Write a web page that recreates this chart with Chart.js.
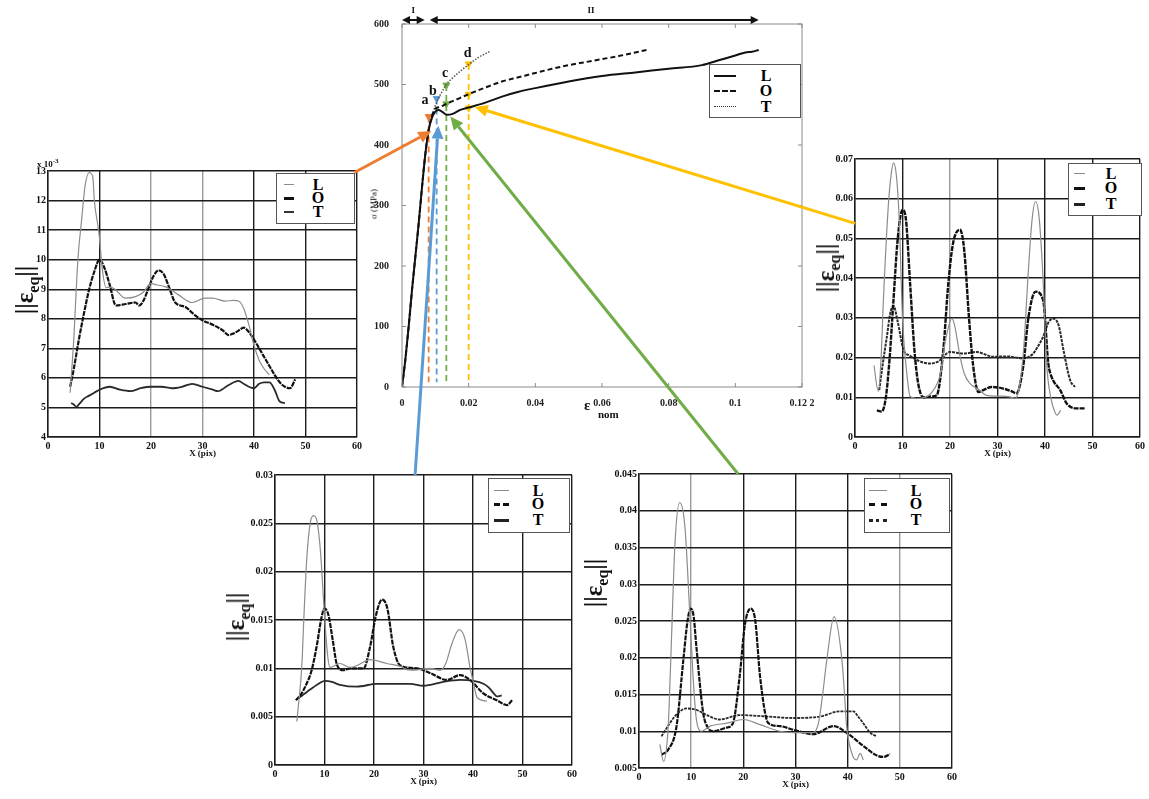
<!DOCTYPE html>
<html>
<head>
<meta charset="utf-8">
<script src="https://cdn.jsdelivr.net/npm/chart.js@4.4.0/dist/chart.umd.min.js"></script>
<style>
body{margin:0;background:#fff;overflow:hidden}
#stage{position:relative;width:1149px;height:799px;font-family:"Liberation Serif","Times New Roman",serif}
#stage canvas{position:absolute}
.lbl{position:absolute;font-weight:bold;color:#111;white-space:nowrap;z-index:6;line-height:1}
.ylab{font-size:25px;transform:translate(-50%,-50%) rotate(-90deg)}
.ylab sub{font-size:16px}
.leg{position:absolute;border:1px solid #555;background:#fff;z-index:4}
.leg span{position:absolute}
.leg b{position:absolute;font-size:16px;line-height:16px;transform:translate(-50%,-50%)}
</style>
</head>
<body>
<div id="stage">
  <div class="lbl ylab" style="left:27px;top:290px">||ε<sub>eq</sub>||</div>
  <div class="lbl ylab" style="left:828px;top:268px">||ε<sub>eq</sub>||</div>
  <div class="lbl ylab" style="left:238px;top:617px">||ε<sub>eq</sub>||</div>
  <div class="lbl ylab" style="left:596px;top:583px">||ε<sub>eq</sub>||</div>
  <div class="lbl" style="left:37px;top:158px;font-size:9px">x 10<sup style="font-size:7px">-3</sup></div>
  <div class="lbl" style="left:374px;top:204px;font-size:9px;font-weight:normal;transform:translate(-50%,-50%) rotate(-90deg)">σ (MPa)</div>
  <div class="lbl" style="left:584px;top:398px;font-size:15px">ε</div>
  <div class="lbl" style="left:598px;top:409px;font-size:11px">nom</div>
</div>
<script>
// ---- centre curve : sigma (MPa) vs nominal strain ----
var centreLx = [0,0.001,0.002,0.003,0.004,0.005,0.006,0.007,0.008,0.009,0.01,0.011,0.012,0.0135,0.015,0.0175,0.02,0.025,0.03,0.035,0.04,0.05,0.06,0.07,0.08,0.09,0.095,0.1,0.103,0.105,0.107];
var centreLy = [0,45,100,160,215,270,330,385,425,445,455,458,455,450,451,458,462,470,480,488,494,505,514,520,526,532,540,548,553,554,557];
var centreOx = [0,0.001,0.002,0.003,0.004,0.005,0.006,0.007,0.008,0.009,0.01,0.0115,0.0133,0.015,0.02,0.025,0.03,0.035,0.04,0.045,0.05,0.055,0.06,0.065,0.07,0.074];
var centreOy = [0,45,100,160,215,270,330,385,425,448,460,463,468,472,484,495,505,512,519,526,532,537,542,547,553,558];
var centreTx = [0.008,0.009,0.01,0.011,0.012,0.0133,0.015,0.0175,0.02,0.023,0.0265];
var centreTy = [425,448,465,478,488,500,510,522,533,545,555];
var markX = [0.008,0.0104,0.0133,0.0133,0.02,0.02,0.02];
var markY = [447,477,499,468,534,484,461];
var guideX = [0.008,0.0104,0.0133,0.02];
var guideTop = [447,477,499,534];
var pointLetters = ['a','b','c','d'];
var letterX = [0.0069,0.0093,0.0129,0.0197];
var letterY = [474,489,518,552];

// ---- left profile (x10^-3) ----
var leftLx = [4.3,5,5.8,6.5,7.2,8,8.7,9,9.9,10.6,11.3,12,13,15,17,18.5,20,21,23,25.4,28,30.5,32,34.4,36,37,38,39,40,41,42,43];
var leftLy = [5.5,7.3,10,11.3,12.5,12.95,12.8,12.0,10.9,9.6,9.05,9.07,9.0,8.7,8.75,8.9,9.2,9.15,9.07,8.8,8.55,8.7,8.7,8.6,8.62,8.6,8.35,7.8,7.1,6.6,6.3,6.1];
var leftOx = [4.3,5,6,7,8,9,10,11,11.9,13.2,15.1,17,17.7,18.5,19.6,20.5,21.5,22.5,23.5,24.7,26.7,28,30,32,34,35,36,37,38,39,40,41,42,43,44,45,46,47,48];
var leftOy = [5.7,6.3,7.3,8.2,9.0,9.6,10.0,9.7,9.2,8.45,8.5,8.55,8.45,8.6,9.07,9.45,9.64,9.5,9.07,8.55,8.4,8.2,7.95,7.8,7.6,7.45,7.5,7.6,7.7,7.55,7.3,7.0,6.7,6.4,6.1,5.85,5.7,5.65,5.95];
var leftTx = [4.5,5,5.5,6,7,8,9,10,12,14,16,18,20,22,24,26,28,30,32,33,35,37,38,39,40,41,42,43,44,45,46];
var leftTy = [5.15,5.1,5.02,5.1,5.3,5.4,5.5,5.6,5.7,5.6,5.55,5.65,5.7,5.7,5.65,5.7,5.8,5.7,5.6,5.55,5.75,5.9,5.8,5.7,5.65,5.8,5.85,5.85,5.6,5.2,5.15];

// ---- right profile ----
var rightLx = [4,4.9,5.5,6,7,7.6,8.1,8.7,9.3,10,11,11.6,13,14,16,18,19,20.4,21,22,23,24.2,26,27.7,30,32.6,33.7,34.5,35.5,36.5,37.3,38,38.7,39.5,40.4,41.2,42.1,42.5,43.3];
var rightLy = [0.018,0.0115,0.02,0.035,0.058,0.066,0.069,0.066,0.055,0.03,0.015,0.0102,0.0097,0.0098,0.011,0.016,0.024,0.0298,0.028,0.021,0.016,0.0135,0.012,0.0105,0.0103,0.0101,0.0097,0.012,0.022,0.042,0.055,0.0593,0.056,0.042,0.0177,0.01,0.0062,0.0055,0.0067];
var rightOx = [4.6,5.6,6.5,7.3,8.1,9,10,10.7,11.6,12.5,13.3,14.4,16,17.2,18.6,19.6,20.6,22.1,23,24,24.9,26,27,28.8,31.2,33,34,35.4,36.5,38,39.6,40.7,41.4,43.2,44.6,46.7,48.4];
var rightOy = [0.0067,0.0064,0.01,0.02,0.0345,0.05,0.0572,0.055,0.0387,0.022,0.0135,0.01,0.0102,0.0105,0.022,0.038,0.0485,0.0522,0.047,0.03,0.0177,0.0113,0.0118,0.0126,0.0122,0.0115,0.011,0.0177,0.03,0.0366,0.0345,0.0185,0.0151,0.0118,0.0084,0.0072,0.0072];
var rightTx = [5.1,5.8,6.7,7.4,8.1,9,10.2,11.5,13,14.5,15.8,17.5,20,22.8,25.6,29.1,32,35.4,37.5,38.6,39.6,40.8,41.8,42.9,43.9,45.3,46.3];
var rightTy = [0.0118,0.018,0.0252,0.031,0.033,0.029,0.022,0.0205,0.0194,0.0187,0.0185,0.019,0.0214,0.021,0.0214,0.0202,0.0203,0.0198,0.021,0.023,0.0252,0.029,0.0298,0.028,0.0218,0.0143,0.0126];

// ---- bottom left profile ----
var blLx = [4.4,4.7,5.4,5.9,6.4,7.1,7.8,8.5,9.2,10,10.6,11.1,13.1,15.2,17,19.2,22.6,25.3,27.3,31.4,33.4,34.5,35.7,37.2,38.4,39.4,40.1,40.8,42.8];
var blLy = [0.0045,0.006,0.0101,0.016,0.0212,0.025,0.0258,0.0252,0.022,0.0155,0.0115,0.0101,0.0105,0.0101,0.0104,0.0109,0.0105,0.0102,0.0098,0.01,0.0098,0.0105,0.0125,0.014,0.013,0.0101,0.0085,0.007,0.0066];
var blOx = [4.2,5.1,6.2,7.4,8.5,9.3,10,10.8,11.7,12.5,13.8,15.2,17.9,19.2,20.4,21.6,22.7,23.9,25.3,28.7,31.4,34.7,37.4,39.4,42.1,44.8,46.9,47.9];
var blOy = [0.0067,0.0072,0.0082,0.0098,0.0125,0.015,0.0162,0.0155,0.0128,0.0104,0.0098,0.01,0.01,0.0122,0.0155,0.0171,0.0162,0.0122,0.0103,0.01,0.0095,0.0088,0.0093,0.0088,0.0074,0.0067,0.0062,0.0067];
var blTx = [4.4,5.5,7.1,8.5,10.1,11.5,13.1,16.5,20.6,24,27.3,30,34,37.4,40.1,42.1,43.2,44.2,44.8,45.8];
var blTy = [0.0068,0.0072,0.0078,0.0083,0.0087,0.0086,0.0083,0.0081,0.0084,0.0084,0.0084,0.0082,0.0086,0.0088,0.0087,0.0084,0.008,0.0074,0.0071,0.0072];

// ---- bottom right profile ----
var brLx = [4,4.7,5.6,6.2,6.9,7.8,8.8,9.7,10.4,11,12,13.6,16.8,20,23.2,27,29.6,33.4,34.4,35.2,36,37.4,38.9,39.4,39.8,40.8,41.7,42.4,43];
var brLy = [0.0082,0.0059,0.0107,0.022,0.0356,0.0411,0.0378,0.0265,0.017,0.0116,0.01,0.0107,0.0111,0.0116,0.0109,0.01,0.0098,0.0098,0.0111,0.015,0.0197,0.0256,0.0197,0.015,0.0107,0.007,0.0061,0.007,0.0061];
var brOx = [4.3,5.6,7.2,8.5,9.3,9.9,10.5,11,12.3,13.2,14.2,16.8,18,19.3,20.3,21.4,22.3,23.2,24.8,27,29.6,33.4,37.3,39.8,43,45.6,46.9,48.1];
var brOy = [0.0068,0.0075,0.0107,0.0197,0.025,0.0267,0.0255,0.0215,0.0125,0.0105,0.01,0.0105,0.0111,0.0175,0.0245,0.0267,0.025,0.0175,0.0111,0.0107,0.0102,0.0096,0.0107,0.0098,0.008,0.0067,0.0065,0.0069];
var brTx = [4.3,5.9,7.5,9.1,11,13,15.5,19.3,24.5,29.6,34.7,38.5,41.1,42,43,44.3,45.6];
var brTy = [0.0093,0.0111,0.0125,0.0131,0.0129,0.0122,0.0116,0.0122,0.012,0.0118,0.012,0.0127,0.0127,0.012,0.0111,0.0098,0.0093];

var xTicks = [0,10,20,30,40,50,60];

var ORANGE = '#ed7d31', BLUE = '#5b9bd5', GREEN = '#70ad47', YELLOW = '#ffc000';
var markColor = [ORANGE, BLUE, GREEN, GREEN, YELLOW, YELLOW, YELLOW];
var guideColor = [ORANGE, BLUE, GREEN, YELLOW];

var YW = 34, PR = 22, XH = 22;
var stage = document.getElementById('stage');
var tickFont = {family: '"Liberation Serif", serif', size: 10, weight: 'bold'};

function makeCanvas(box, pt) {
    var c = document.createElement('canvas');
    c.width = box[2] - box[0] + YW + PR;
    c.height = box[3] - box[1] + pt + XH;
    c.style.left = (box[0] - YW) + 'px';
    c.style.top = (box[1] - pt) + 'px';
    stage.appendChild(c);
    return c;
}

function pts(xs, ys) {
    return xs.map(function(x, i) { return {x: x, y: ys[i]}; });
}

function fmt(v) { return String(+v.toFixed(4)); }

function lineSet(xs, ys, color, width, dash) {
    return {data: pts(xs, ys), showLine: true, borderColor: color, borderWidth: width,
            borderDash: dash || [], pointRadius: 0, cubicInterpolationMode: 'monotone'};
}

/**
 * one strain profile plot
 * box -> plot area [left, top, right, bottom] on the page
 * lightX -> vertical grid lines drawn in light grey
 */
function profileChart(box, yMin, yMax, yStep, datasets, lightX) {
    var canvas = makeCanvas(box, 10);
    return new Chart(canvas, {
        type: 'scatter',
        data: {datasets: datasets},
        options: {
            responsive: false, animation: false, events: [],
            layout: {padding: {left: 0, top: 10, right: PR, bottom: 0}},
            plugins: {legend: {display: false}, tooltip: {enabled: false}},
            scales: {
                x: {
                    type: 'linear', min: 0, max: 60,
                    afterBuildTicks: function(s) { s.ticks = xTicks.map(function(v) { return {value: v}; }); },
                    ticks: {font: tickFont, color: '#111', padding: 3, maxRotation: 0, autoSkip: false},
                    grid: {color: function(c) { return lightX.indexOf(c.tick.value) >= 0 ? '#9a9a9a' : '#1c1c1c'; },
                           lineWidth: 1.4, drawTicks: false},
                    border: {color: '#1c1c1c', width: 1.4},
                    title: {display: true, text: 'X (pix)', color: '#111', padding: 0,
                            font: {family: '"Liberation Serif", serif', size: 9, weight: 'bold'}},
                    afterFit: function(s) { s.height = XH; }
                },
                y: {
                    type: 'linear', min: yMin, max: yMax,
                    ticks: {stepSize: yStep, font: tickFont, color: '#111', padding: 2, callback: fmt},
                    grid: {color: '#1c1c1c', lineWidth: 1.4, drawTicks: false},
                    border: {color: '#1c1c1c', width: 1.4},
                    afterFit: function(s) { s.width = YW; }
                }
            }
        }
    });
}

// thin grey L, heavy dashed O, dark T
var leftChart = profileChart([48,171,357,437], 4, 13, 1, [
    lineSet(leftLx, leftLy, '#8c8c8c', 1.2),
    lineSet(leftOx, leftOy, '#111', 2.2, [5, 1]),
    lineSet(leftTx, leftTy, '#2a2a2a', 1.8)
], [20, 30]);

var rightChart = profileChart([855,159,1140,437], 0, 0.07, 0.01, [
    lineSet(rightLx, rightLy, '#8c8c8c', 1.2),
    lineSet(rightOx, rightOy, '#111', 2.4, [5, 1]),
    lineSet(rightTx, rightTy, '#2a2a2a', 2, [3, 1])
], [20]);

var blChart = profileChart([275,475,572,765], 0, 0.03, 0.005, [
    lineSet(blLx, blLy, '#8c8c8c', 1.2),
    lineSet(blOx, blOy, '#111', 2.2, [5, 1]),
    lineSet(blTx, blTy, '#2a2a2a', 1.8)
], []);

var brChart = profileChart([639,474,952,768], 0.005, 0.045, 0.005, [
    lineSet(brLx, brLy, '#8c8c8c', 1.2),
    lineSet(brOx, brOy, '#111', 2.2, [5, 1]),
    lineSet(brTx, brTy, '#2a2a2a', 1.8, [3, 1])
], [10, 50]);

// ---- centre chart ----
var centreDeco = {
    id: 'centreDeco',
    afterDraw: function(chart) {
        var ctx = chart.ctx, a = chart.chartArea, sx = chart.scales.x, sy = chart.scales.y;
        ctx.save();
        ctx.strokeStyle = '#8a8a8a';
        ctx.lineWidth = 1;
        ctx.strokeRect(a.left, a.top, a.right - a.left, a.bottom - a.top);
        sx.ticks.forEach(function(t) {
            var p = sx.getPixelForValue(t.value);
            ctx.beginPath();
            ctx.moveTo(p, a.bottom); ctx.lineTo(p, a.bottom - 4);
            ctx.moveTo(p, a.top); ctx.lineTo(p, a.top + 4);
            ctx.stroke();
        });
        sy.ticks.forEach(function(t) {
            var p = sy.getPixelForValue(t.value);
            ctx.beginPath();
            ctx.moveTo(a.left, p); ctx.lineTo(a.left + 4, p);
            ctx.moveTo(a.right, p); ctx.lineTo(a.right - 4, p);
            ctx.stroke();
        });
        // stage I / II arrows
        function dbl(x0, x1, y) {
            ctx.strokeStyle = '#111'; ctx.fillStyle = '#111'; ctx.lineWidth = 2;
            ctx.beginPath(); ctx.moveTo(x0 + 6, y); ctx.lineTo(x1 - 6, y); ctx.stroke();
            ctx.beginPath(); ctx.moveTo(x0, y); ctx.lineTo(x0 + 8, y - 4); ctx.lineTo(x0 + 8, y + 4); ctx.fill();
            ctx.beginPath(); ctx.moveTo(x1, y); ctx.lineTo(x1 - 8, y - 4); ctx.lineTo(x1 - 8, y + 4); ctx.fill();
        }
        var yArr = a.top - 4;
        dbl(sx.getPixelForValue(0), sx.getPixelForValue(0.0068), yArr);
        dbl(sx.getPixelForValue(0.0083), sx.getPixelForValue(0.107), yArr);
        ctx.font = 'bold 9px "Liberation Serif", serif';
        ctx.textAlign = 'center';
        ctx.textBaseline = 'middle';
        ctx.fillText('I', sx.getPixelForValue(0.0034), yArr - 9);
        ctx.fillText('II', sx.getPixelForValue(0.0567), yArr - 9);
        // point letters
        ctx.font = 'bold 14px "Liberation Serif", serif';
        pointLetters.forEach(function(s, i) {
            ctx.fillText(s, sx.getPixelForValue(letterX[i]), sy.getPixelForValue(letterY[i]));
        });
        ctx.restore();
    }
};

var centreSets = [
    lineSet(centreLx, centreLy, '#111', 2),
    lineSet(centreOx, centreOy, '#111', 2, [5, 3]),
    lineSet(centreTx, centreTy, '#555', 1.5, [1.5, 1.5])
];
guideX.forEach(function(x, i) {
    centreSets.push({data: pts([x, x], [guideTop[i], 8]), showLine: true, borderColor: guideColor[i],
                     borderWidth: 1.8, borderDash: [6, 4], pointRadius: 0});
});
centreSets.push({data: pts(markX, markY), showLine: false, pointStyle: 'triangle', rotation: 180,
                 pointRadius: 4, backgroundColor: markColor, borderColor: markColor, borderWidth: 1});

var centreFont = {family: '"Liberation Serif", serif', size: 10, weight: 'bold'};
var centreChart = new Chart(makeCanvas([402,24,802,387], 24), {
    type: 'scatter',
    data: {datasets: centreSets},
    options: {
        responsive: false, animation: false, events: [],
        layout: {padding: {left: 0, top: 24, right: PR, bottom: 0}},
        plugins: {legend: {display: false}, tooltip: {enabled: false}},
        scales: {
            x: {
                type: 'linear', min: 0, max: 0.12,
                ticks: {stepSize: 0.02, font: centreFont, color: '#222', padding: 2, maxRotation: 0,
                        callback: function(v) { var s = fmt(v); return s === '0.12' ? '0.12 2' : s; }},
                grid: {display: false}, border: {display: false},
                afterFit: function(s) { s.height = XH; }
            },
            y: {
                type: 'linear', min: 0, max: 600,
                ticks: {stepSize: 100, font: centreFont, color: '#222', padding: 5},
                grid: {display: false}, border: {display: false},
                afterFit: function(s) { s.width = YW; }
            }
        }
    },
    plugins: [centreDeco]
});

// ---- legends ----
var legends = [
    {box: [276,173,77,49], sample: [7,17], letter: 41, rows: [11,24,38],
     lines: ['1px solid #8c8c8c', '3px dashed #111', '2px solid #333']},
    {box: [1068,163,72,51], sample: [5,16], letter: 42, rows: [10,24,40],
     lines: ['1px solid #8c8c8c', '3px dashed #111', '3px solid #222']},
    {box: [488,478,80,53], sample: [5,20], letter: 49, rows: [12,25,41],
     lines: ['1px solid #8c8c8c', '3px dashed #111', '3px solid #222']},
    {box: [864,478,84,53], sample: [4,22], letter: 51, rows: [12,25,41],
     lines: ['1px solid #8c8c8c', '3px dashed #111', '3px dotted #222']},
    {box: [709,64,90,52], sample: [4,26], letter: 56, rows: [11,26,42],
     lines: ['2px solid #111', '2px dashed #111', '1px dotted #333']}
];
var legendNames = ['L', 'O', 'T'];
legends.forEach(function(g) {
    var d = document.createElement('div');
    d.className = 'leg';
    d.style.left = g.box[0] + 'px'; d.style.top = g.box[1] + 'px';
    d.style.width = g.box[2] + 'px'; d.style.height = g.box[3] + 'px';
    legendNames.forEach(function(n, i) {
        var s = document.createElement('span');
        s.style.left = g.sample[0] + 'px';
        s.style.width = (g.sample[1] - g.sample[0]) + 'px';
        s.style.top = (g.rows[i] - 1) + 'px';
        s.style.borderTop = g.lines[i];
        d.appendChild(s);
        var b = document.createElement('b');
        b.textContent = n;
        b.style.left = g.letter + 'px';
        b.style.top = g.rows[i] + 'px';
        d.appendChild(b);
    });
    stage.appendChild(d);
});

// ---- connecting arrows ----
function pagePt(chart, xv, yv) {
    var c = chart.canvas;
    return [c.offsetLeft + chart.scales.x.getPixelForValue(xv), c.offsetTop + chart.scales.y.getPixelForValue(yv)];
}
var links = [
    {color: ORANGE, from: pagePt(leftChart, 59.5, 12.95), to: pagePt(centreChart, 0.0088, 423)},
    {color: BLUE, from: pagePt(blChart, 28.3, 0.03), to: pagePt(centreChart, 0.0109, 432)},
    {color: GREEN, from: pagePt(brChart, 19, 0.045), to: pagePt(centreChart, 0.0145, 447)},
    {color: YELLOW, from: pagePt(rightChart, 0, 0.0538), to: pagePt(centreChart, 0.0218, 463)}
];
var ov = document.createElement('canvas');
ov.width = 1149; ov.height = 799;
ov.style.left = '0px'; ov.style.top = '0px'; ov.style.zIndex = 5;
stage.appendChild(ov);
var octx = ov.getContext('2d');
links.forEach(function(k) {
    var x0 = k.from[0], y0 = k.from[1], x1 = k.to[0], y1 = k.to[1];
    var ang = Math.atan2(y1 - y0, x1 - x0), len = 13, hw = 6;
    var bx = x1 - len * Math.cos(ang), by = y1 - len * Math.sin(ang);
    octx.strokeStyle = k.color; octx.fillStyle = k.color; octx.lineWidth = 3;
    octx.beginPath(); octx.moveTo(x0, y0); octx.lineTo(bx, by); octx.stroke();
    octx.beginPath();
    octx.moveTo(x1, y1);
    octx.lineTo(bx + hw * Math.sin(ang), by - hw * Math.cos(ang));
    octx.lineTo(bx - hw * Math.sin(ang), by + hw * Math.cos(ang));
    octx.closePath(); octx.fill();
});
</script>
</body>
</html>
